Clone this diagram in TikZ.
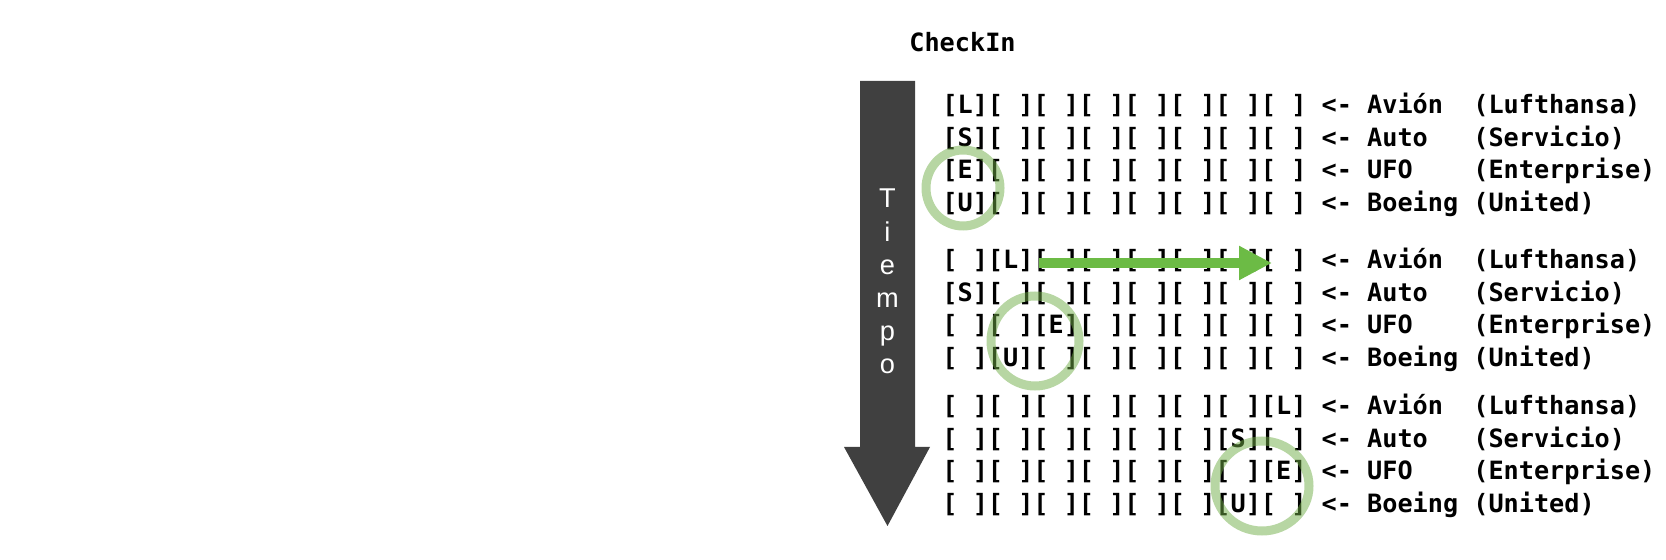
\documentclass[tikz,border=0pt]{standalone}
\usepackage{fontspec}
\setmainfont{Liberation Sans}
\setmonofont{DejaVu Sans Mono}
\usetikzlibrary{arrows.meta}

\definecolor{timegray}{RGB}{64,64,64}
\definecolor{movegreen}{RGB}{108,187,69}
\definecolor{ringgreen}{RGB}{112,173,71}

\tikzset{
  slotrow/.style={anchor=base west,inner sep=0pt,font=\ttfamily\bfseries\fontsize{12.6}{15}\selectfont},
  timeletter/.style={anchor=base,inner sep=0pt,text=white,font=\fontsize{13.6}{16}\selectfont},
  ring/.style={draw=ringgreen,draw opacity=0.5,line width=4.5pt},
  movearrow/.style={draw=movegreen,line width=5pt,-{Triangle[length=16.5pt,width=16pt]}},
}

\begin{document}
\begin{tikzpicture}[x=0.5pt,y=0.5pt,yscale=-1,xscale=1]
            \useasboundingbox (0,0) rectangle (1666,560);

            % Text Node
            \node[slotrow] (checkin) at (909,51.5) {CheckIn};

            %Shape: Down Arrow
            \fill[timegray] (860,81) -- (915,81) -- (915,447) -- (930,447) -- (887.5,526) -- (844,447) -- (860,447) -- cycle;
            % Text Nodes
            \foreach \ch [count=\i from 0] in {T,i,e,m,p,o}
              \node[timeletter] (tl\i) at (887.5,208+33.2*\i) {\ch};

            % first step
            \node[slotrow] (a1) at (942,114) {[L][~][~][~][~][~][~][~]~<-~Avión~~(Lufthansa)};
            \node[slotrow] (a2) at (942,146.5) {[S][~][~][~][~][~][~][~]~<-~Auto~~~(Servicio)};
            \node[slotrow] (a3) at (942,179) {[E][~][~][~][~][~][~][~]~<-~UFO~~~~(Enterprise)};
            \node[slotrow] (a4) at (942,211.5) {[U][~][~][~][~][~][~][~]~<-~Boeing~(United)};

            % second step
            \node[slotrow] (b1) at (942,269) {[~][L][~][~][~][~][~][~]~<-~Avión~~(Lufthansa)};
            \node[slotrow] (b2) at (942,301.5) {[S][~][~][~][~][~][~][~]~<-~Auto~~~(Servicio)};
            \node[slotrow] (b3) at (942,334) {[~][~][E][~][~][~][~][~]~<-~UFO~~~~(Enterprise)};
            \node[slotrow] (b4) at (942,366.5) {[~][U][~][~][~][~][~][~]~<-~Boeing~(United)};

            % third step
            \node[slotrow] (c1) at (942,415) {[~][~][~][~][~][~][~][L]~<-~Avión~~(Lufthansa)};
            \node[slotrow] (c2) at (942,447.5) {[~][~][~][~][~][~][S][~]~<-~Auto~~~(Servicio)};
            \node[slotrow] (c3) at (942,480) {[~][~][~][~][~][~][~][E]~<-~UFO~~~~(Enterprise)};
            \node[slotrow] (c4) at (942,512.5) {[~][~][~][~][~][~][U][~]~<-~Boeing~(United)};

            %Shape: Circles
            \draw[ring] (963,188) ellipse [x radius=37, y radius=38];
            \draw[ring] (1035,341) ellipse [x radius=44, y radius=45];
            \draw[ring] (1262,486) ellipse [x radius=47, y radius=45];

            %Straight Lines
            \coordinate (moveStart) at (1039,263);
            \coordinate (moveEnd) at (1272,263);
            \draw[movearrow] (moveStart) -- (moveEnd);
\end{tikzpicture}
\end{document}
